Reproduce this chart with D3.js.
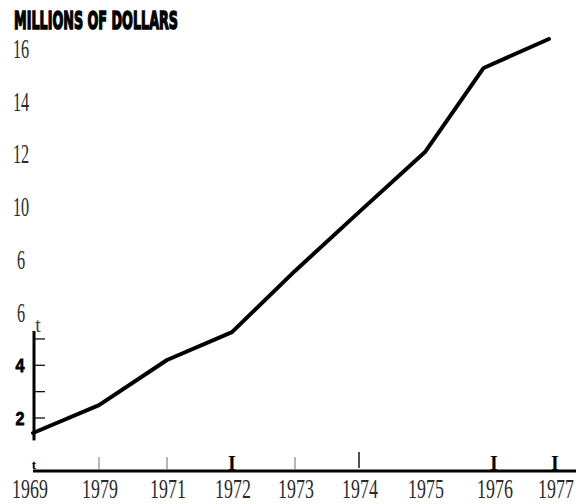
<!DOCTYPE html>
<html>
<head>
<meta charset="utf-8">
<script src="https://cdn.jsdelivr.net/npm/d3@7"></script>
<style>
  html, body { margin: 0; padding: 0; background: #fff; }
  svg { display: block; }
  .num { font-family: "Liberation Serif", serif; fill: #2a2a2a; }
  .bold-num { font-family: "Liberation Sans", sans-serif; font-weight: bold; fill: #000; stroke: #000; stroke-width: 0.8; }
</style>
</head>
<body>
<svg id="chart" width="576" height="504"></svg>
<script>
// data (tick label text kept as printed)
const years = [1969, 1970, 1971, 1972, 1973, 1974, 1975, 1976, 1977];
const yearLabels = ["1969", "1979", "1971", "1972", "1973", "1974", "1975", "1976", "1977"];
const yearMarks = ["t", "thin", "thin", "I", "thin", "dark", "", "I", "I"];

const lineYears = [1969, 1970, 1971, 1972, 1973, 1974, 1975, 1975.85, 1976.9];
const lineValues = [1.43, 2.49, 4.20, 5.26, 7.58, 9.81, 12.09, 15.28, 16.38];

const yTickValues = [16, 14, 12, 10, 8, 6, 4, 2];
const yTickLabels = ["16", "14", "12", "10", "6", "6", "4", "2"];
const yTickBold = [false, false, false, false, false, false, true, true];
const minorTicks = [2, 3, 4, 5];

const title = "MILLIONS OF DOLLARS";

// layout
const WIDTH = 576, HEIGHT = 504;
const BASE_Y = 471;
const YEAR_X = [33, 99, 167, 232, 295, 359, 425, 494, 555];

const svg = d3.select('#chart');

const x = d3.scaleLinear().domain(years).range(YEAR_X);
const y = d3.scaleLinear().domain([2, 16]).range([418, 49]);

// title
svg.append('text')
  .attr('x', 14)
  .attr('y', 29)
  .attr('textLength', 164)
  .attr('lengthAdjust', 'spacingAndGlyphs')
  .style('font-family', '"DejaVu Sans", sans-serif')
  .style('font-weight', 'bold')
  .style('font-size', '25px')
  .style('fill', '#000')
  .style('stroke', '#000')
  .style('stroke-width', 1.6)
  .text(title);

// y labels
svg.selectAll('.ylab')
  .data(yTickValues)
  .enter()
  .append('text')
  .attr('class', (d, i) => yTickBold[i] ? 'ylab bold-num' : 'ylab num')
  .attr('text-anchor', 'middle')
  .attr('transform', (d, i) => yTickBold[i]
    ? `translate(20, ${y(d) + 7}) scale(0.85, 1)`
    : `translate(21, ${y(d) + 9}) scale(0.6, 1)`)
  .style('font-size', (d, i) => yTickBold[i] ? '19px' : '27px')
  .text((d, i) => yTickLabels[i]);

// short vertical axis
svg.append('line')
  .attr('x1', 34).attr('x2', 34)
  .attr('y1', y(5.3)).attr('y2', y(1.15))
  .attr('stroke', '#000')
  .attr('stroke-width', 3);

svg.selectAll('.minor')
  .data(minorTicks)
  .enter()
  .append('line')
  .attr('class', 'minor')
  .attr('x1', 34).attr('x2', 45)
  .attr('y1', d => y(d)).attr('y2', d => y(d))
  .attr('stroke', '#111')
  .attr('stroke-width', 1.3);

svg.append('text')
  .attr('class', 'num')
  .attr('x', 38)
  .attr('y', 332)
  .attr('text-anchor', 'middle')
  .style('font-size', '20px')
  .style('fill', '#444')
  .text('t');

// baseline
svg.append('line')
  .attr('x1', 33).attr('x2', WIDTH)
  .attr('y1', BASE_Y).attr('y2', BASE_Y)
  .attr('stroke', '#000')
  .attr('stroke-width', 3.2);

// year marks
const marks = svg.selectAll('.mark')
  .data(years)
  .enter()
  .append('g')
  .attr('class', 'mark')
  .attr('transform', d => `translate(${x(d)}, 0)`);

marks.filter((d, i) => yearMarks[i] === 'thin' || yearMarks[i] === 'dark')
  .append('line')
  .attr('x1', 0).attr('x2', 0)
  .each(function (d) {
    const i = years.indexOf(d);
    const dark = yearMarks[i] === 'dark';
    d3.select(this)
      .attr('y1', dark ? 452 : 457)
      .attr('y2', dark ? 468 : 469)
      .attr('stroke', dark ? '#222' : '#888')
      .attr('stroke-width', dark ? 1.6 : 1.2);
  });

marks.filter((d, i) => yearMarks[i] === 'I')
  .append('text')
  .attr('text-anchor', 'middle')
  .attr('y', 470)
  .style('font-family', '"Liberation Serif", serif')
  .style('font-weight', 'bold')
  .style('font-size', '20px')
  .text('I');

marks.filter((d, i) => yearMarks[i] === 't')
  .append('text')
  .attr('text-anchor', 'middle')
  .attr('x', 1)
  .attr('y', 469)
  .style('font-family', '"Liberation Serif", serif')
  .style('font-weight', 'bold')
  .style('font-size', '13px')
  .text('t');

// year labels
marks.append('text')
  .attr('class', 'num')
  .attr('text-anchor', 'middle')
  .attr('transform', (d, i) => `translate(${i === 0 ? -3 : 1}, 498) scale(0.64, 1)`)
  .style('font-size', '28px')
  .text((d, i) => yearLabels[i]);

// the series
const points = lineYears.map((yr, i) => [yr, lineValues[i]]);
svg.append('path')
  .datum(points)
  .attr('fill', 'none')
  .attr('stroke', '#000')
  .attr('stroke-width', 4)
  .attr('stroke-linejoin', 'round')
  .attr('stroke-linecap', 'round')
  .attr('d', d3.line().x(d => x(d[0])).y(d => y(d[1])));
</script>
</body>
</html>
